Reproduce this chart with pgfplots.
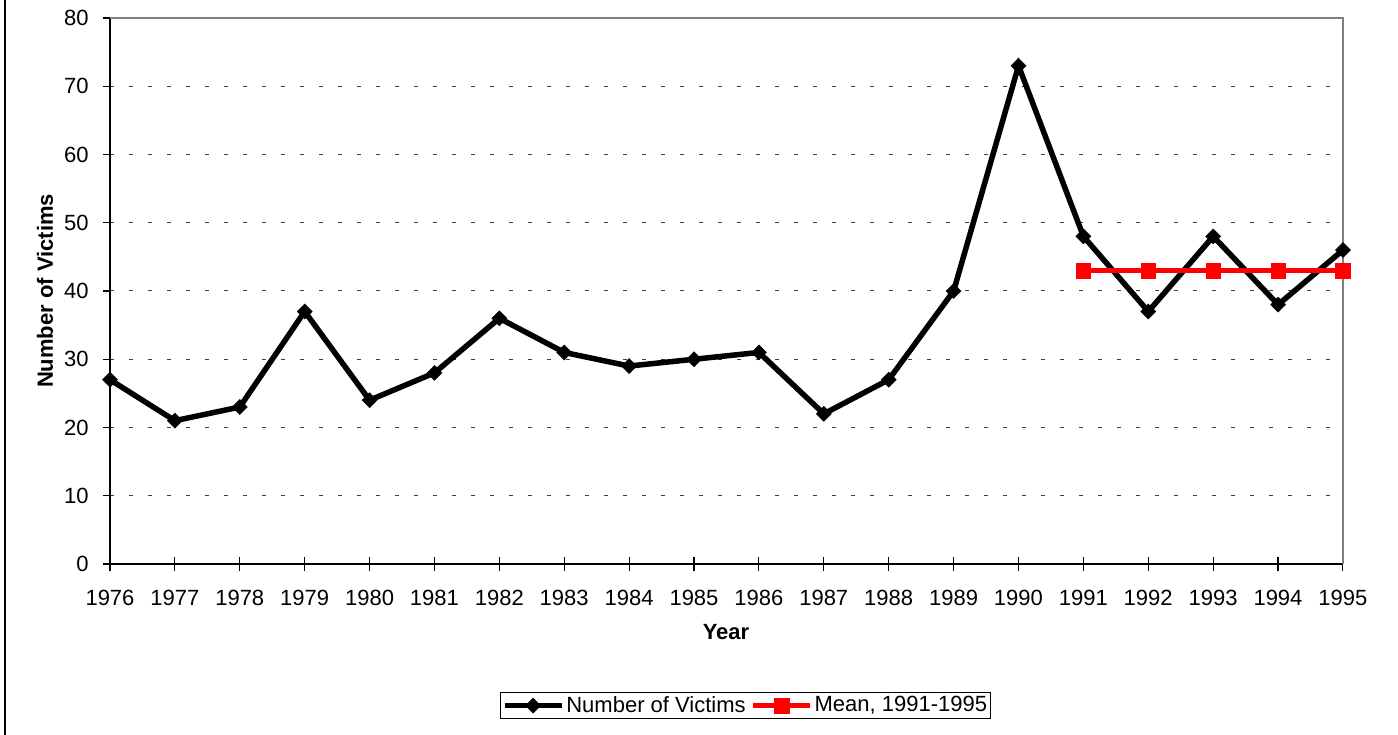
\documentclass[border=0pt]{standalone}
\usepackage{fontspec}
\setmainfont{Liberation Sans}
\usepackage{pgfplots}
\pgfplotsset{compat=1.18}
\begin{document}
\fontsize{22bp}{26bp}\selectfont
\begin{tikzpicture}
\useasboundingbox (0,0) rectangle (1398bp,735bp);
\draw[black, line width=1.5bp] (5bp,0) -- (5bp,735bp);
\begin{axis}[
  at={(110bp,171bp)}, anchor=south west,
  scale only axis, width=1233bp, height=546bp,
  xmin=1976, xmax=1995, ymin=0, ymax=80,
  ytick={0,10,...,80}, xtick={1976,...,1995},
  axis x line*=bottom, axis y line*=left,
  axis line style={line width=1.5bp, black, -},
  tick align=outside, major tick length=7bp,
  tick style={black, line width=1.2bp},
  extra x ticks={1976,...,1995}, extra x tick labels={},
  extra x tick style={tick align=inside},
  /pgf/number format/assume math mode=true,
  /pgf/number format/1000 sep={},
  xticklabel style={yshift=-12bp},
  yticklabel style={xshift=-7bp},
  ymajorgrids,
  grid style={dash pattern=on 3.5bp off 15.5bp, black!75, line width=1bp},
  xlabel={\textbf{Year}},
  xlabel style={at={(axis description cs:0.4996,-0.1245)}, anchor=center},
  ylabel={\textbf{Number of Victims}},
  ylabel style={at={(axis description cs:-0.0527,0.5)}, anchor=center, rotate=0},
  clip=false,
  legend columns=2,
  legend style={at={(axis description cs:0.5154,-0.2595)}, anchor=center,
    draw=black, line width=1bp, inner sep=1.5bp,
    font=\fontsize{22bp}{26bp}\selectfont,
    /tikz/every even column/.append style={column sep=3bp}},
  legend image code/.code={\draw[mark repeat=2,mark phase=2,#1] plot coordinates {(0bp,0bp) (28.5bp,0bp) (57bp,0bp)};},
]
\draw[line width=2bp, black!50] (rel axis cs:0,1) -- (rel axis cs:1,1) -- (rel axis cs:1,0);
\addplot[black, line width=5.5bp, mark=square*, mark size=5.3bp,
  mark options={rotate=45, line width=0.5bp, fill=black}]
  coordinates {
  (1976,27) (1977,21) (1978,23) (1979,37) (1980,24) (1981,28) (1982,36)
  (1983,31) (1984,29) (1985,30) (1986,31) (1987,22) (1988,27) (1989,40)
  (1990,73) (1991,48) (1992,37) (1993,48) (1994,38) (1995,46)};
\addlegendentry{Number of Victims}
\addplot[red, line width=5bp, mark=square*, mark size=7.3bp,
  mark options={line width=0.5bp, fill=red}]
  coordinates {(1991,43) (1992,43) (1993,43) (1994,43) (1995,43)};
\addlegendentry{Mean, 1991-1995}
\end{axis}
\end{tikzpicture}
\end{document}
